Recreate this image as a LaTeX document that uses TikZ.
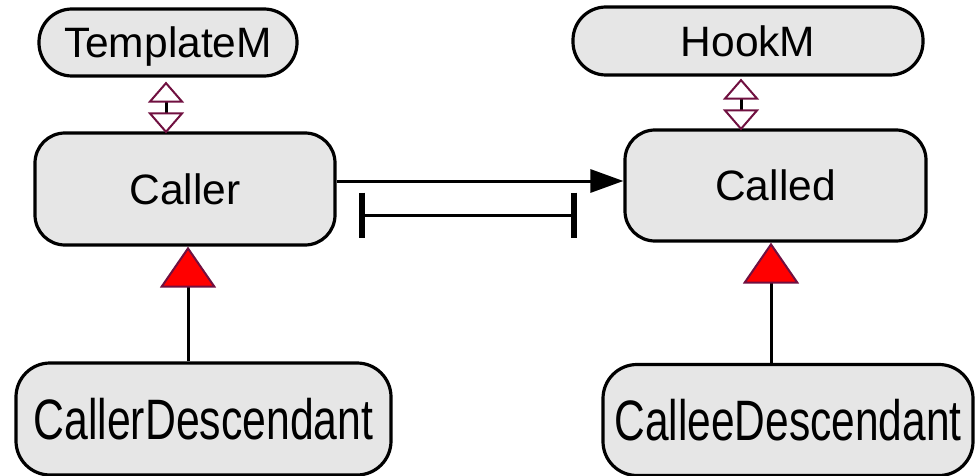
\documentclass[tikz,border=0pt]{standalone}
\usepackage{fontspec}
\setmainfont{Liberation Sans}
\usetikzlibrary{arrows.meta}
\definecolor{boxfill}{RGB}{230,230,230}
\definecolor{hookc}{RGB}{112,16,64}
\begin{document}
\begin{tikzpicture}[x=1pt,y=-1pt,
  cls/.style={draw=black, line width=3.2pt, fill=boxfill, inner sep=0pt,
    font=\fontsize{42.5}{42.5}\selectfont, text height=30.4pt, text depth=0pt},
  pill/.style={cls, rounded corners=33pt},
  rbox/.style={cls, rounded corners=30pt},
  widebox/.style={cls, rounded corners=34pt, text height=41pt},
  hookline/.style={line width=3pt, draw=black,
    {Triangle[length=21pt,width=36pt,line width=2pt,color=hookc,fill=white]}-{Triangle[length=21pt,width=36pt,line width=2pt,color=hookc,fill=white]}},
  inherit/.style={line width=3pt, draw=black,
    -{Triangle[length=41pt,width=56pt,line width=2pt,color=hookc,fill=red]}},
  callline/.style={line width=3pt, draw=black, -{Triangle[length=33pt,width=23pt]}}]
  \useasboundingbox (0,0) rectangle (980,476);

  % classes
  \node[pill, minimum width=258pt, minimum height=67pt] (TemplateM) at (168,42.5) {TemplateM};
  \node[pill, minimum width=350pt, minimum height=68pt] (HookM) at (748,41) {HookM};
  \node[rbox, minimum width=300pt, minimum height=112pt] (Caller) at (185,189) {Caller};
  \node[rbox, minimum width=301pt, minimum height=111pt] (Called) at (775.5,185.5) {Called};
  \node[widebox, minimum width=375pt, minimum height=112pt] (CallerDescendant) at (203.5,419)
    {\scalebox{0.75}[1]{\fontsize{57}{57}\selectfont CallerDescendant}};
  \node[widebox, minimum width=370pt, minimum height=111pt] (CalleeDescendant) at (788,420)
    {\scalebox{0.745}[1]{\fontsize{57}{57}\selectfont CalleeDescendant}};

  % hook relations
  \coordinate (hx1) at (166,0);
  \coordinate (hx2) at (741,0);
  \draw[hookline] ([yshift=-4pt]TemplateM.south -| hx1) -- ([yshift=-2pt]Caller.north -| hx1);
  \draw[hookline] ([yshift=-2pt]HookM.south -| hx2) -- ([yshift=-2pt]Called.north -| hx2);

  % inheritance
  \coordinate (ix1) at (188,0);
  \coordinate (ix2) at (771,0);
  \draw[inherit] (CallerDescendant.north -| ix1) -- (Caller.south -| ix1);
  \draw[inherit] ([yshift=-3pt]CalleeDescendant.north -| ix2) -- (Called.south -| ix2);

  % call
  \coordinate (ay) at (0,181);
  \draw[callline] (Caller.east |- ay) -- (Called.west |- ay);

  % span bar
  \coordinate (dl) at (362,215);
  \coordinate (dr) at (574,215);
  \draw[line width=3pt] (dl) -- (dr);
  \draw[line width=6pt] (dl) ++(0,-22.5) -- ++(0,45);
  \draw[line width=6pt] (dr) ++(0,-22.5) -- ++(0,45);
\end{tikzpicture}
\end{document}
